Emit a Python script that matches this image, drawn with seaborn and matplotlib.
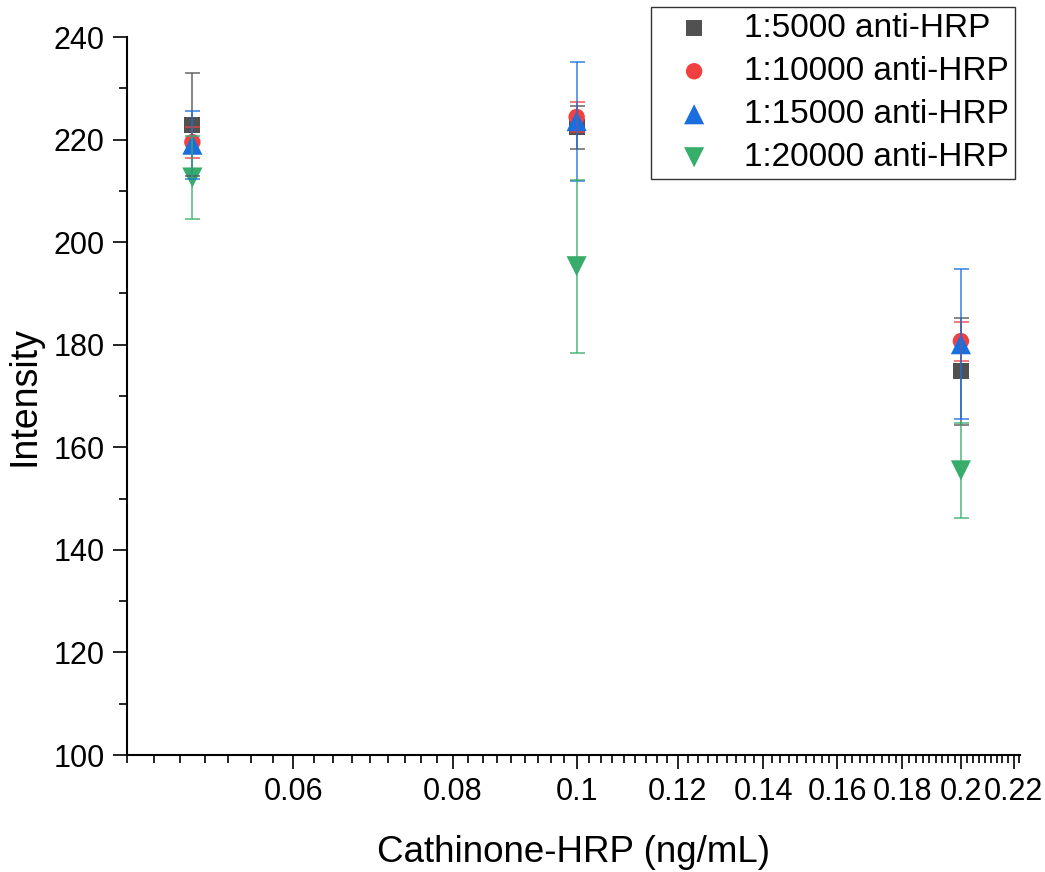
import numpy as np
import pandas as pd
import matplotlib
matplotlib.use("Agg")
import matplotlib.pyplot as plt
import matplotlib.ticker as mticker
import seaborn as sns

# ---- data ----
conc = [0.05, 0.1, 0.2]
series_names = ["1:5000 anti-HRP", "1:10000 anti-HRP", "1:15000 anti-HRP", "1:20000 anti-HRP"]
mean_5000 = [222.9, 222.4, 174.8]
err_5000 = [10.0, 4.2, 10.4]
mean_10000 = [219.5, 224.4, 180.7]
err_10000 = [3.0, 3.0, 3.8]
mean_15000 = [219.0, 223.6, 180.1]
err_15000 = [6.6, 11.6, 14.6]
mean_20000 = [212.6, 195.3, 155.5]
err_20000 = [8.1, 16.9, 9.3]

means = [mean_5000, mean_10000, mean_15000, mean_20000]
errs = [err_5000, err_10000, err_15000, err_20000]
colors = ["#515151", "#F14040", "#1A6FDF", "#37AD6B"]
markers = ["s", "o", "^", "v"]
sizes = [135, 140, 210, 210]

x_major = [0.06, 0.08, 0.1, 0.12, 0.14, 0.16, 0.18, 0.2, 0.22]
x_labels = ["0.06", "0.08", "0.1", "0.12", "0.14", "0.16", "0.18", "0.2", "0.22"]
y_ticks = [100, 120, 140, 160, 180, 200, 220, 240]

sns.set_theme(style="ticks")
plt.rcParams["font.family"] = ["Liberation Sans", "DejaVu Sans"]
plt.rcParams["text.color"] = "black"
plt.rcParams["axes.labelcolor"] = "black"

fig = plt.figure(figsize=(10.45, 8.72), dpi=100)
ax = fig.add_axes([127 / 1045, 1 - 755 / 872, (1020 - 127) / 1045, (755 - 37) / 872])

for name, m, e, c, mk, s in zip(series_names, means, errs, colors, markers, sizes):
    df = pd.DataFrame({"x": conc, "y": m})
    sns.scatterplot(data=df, x="x", y="y", marker=mk, color=c, s=s,
                    edgecolor="none", linewidth=0, ax=ax, label=name, zorder=3)
    ax.errorbar(conc, m, yerr=e, fmt="none", ecolor=c, elinewidth=1.3,
                capsize=5.4, capthick=1.3, alpha=0.75, zorder=4)

ax.set_xscale("log")
ax.set_xlim(0.04444, 0.2225)
ax.set_ylim(100, 240)
ax.xaxis.set_major_locator(mticker.FixedLocator(x_major))
ax.xaxis.set_major_formatter(mticker.FixedFormatter(x_labels))
minor = [v for v in np.arange(0.04, 0.2301, 0.02 / 9)
         if all(abs(v - t) > 1e-6 for t in x_major)]
ax.xaxis.set_minor_locator(mticker.FixedLocator(minor))
ax.xaxis.set_minor_formatter(mticker.NullFormatter())
ax.set_yticks(y_ticks)
ax.yaxis.set_minor_locator(mticker.MultipleLocator(10))

for sp in ["top", "right"]:
    ax.spines[sp].set_visible(False)
for sp in ["left", "bottom"]:
    ax.spines[sp].set_linewidth(1.5)
    ax.spines[sp].set_color("black")

ax.tick_params(axis="both", which="major", direction="out", length=10, width=1.2,
               labelsize=22, colors="black", pad=6)
ax.tick_params(axis="both", which="minor", direction="out", length=5.5, width=1.2,
               colors="black")

ax.set_xlabel("Cathinone-HRP (ng/mL)", fontsize=26.5, labelpad=20, color="black")
ax.set_ylabel("Intensity", fontsize=27, labelpad=8, color="black")

leg = ax.legend(loc="upper right", bbox_to_anchor=(1015 / 1045, 1 - 7 / 872),
                bbox_transform=fig.transFigure, borderaxespad=0, fontsize=24,
                frameon=True, fancybox=False, labelspacing=0.36,
                handletextpad=0.4, borderpad=0.18, handlelength=2.2)
leg.get_frame().set_edgecolor("black")
leg.get_frame().set_linewidth(1.0)
leg.set_zorder(10)

fig.savefig("out.png", dpi=100)
